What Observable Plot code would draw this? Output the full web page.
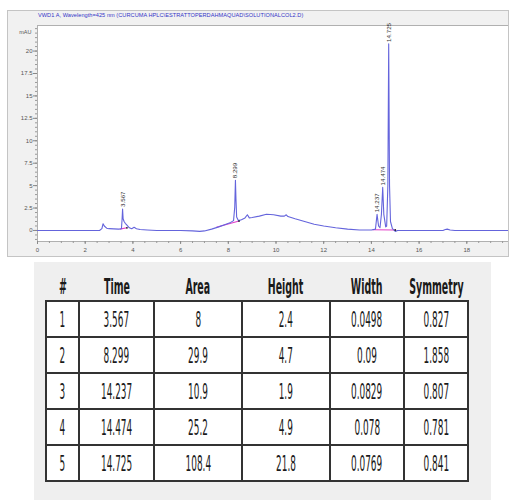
<!DOCTYPE html>
<html>
<head>
<meta charset="utf-8">
<script src="https://cdn.jsdelivr.net/npm/d3@7"></script>
<script src="https://cdn.jsdelivr.net/npm/@observablehq/plot@0.6"></script>
<style>
  body { margin:0; width:509px; height:500px; position:relative; background:#fff; overflow:hidden; font-family: Arial, "Liberation Sans", sans-serif; }
  #chart { position:absolute; left:7px; top:10px; width:502px; height:247px; }
  #chart svg { outline:1px solid #c4c4c4; outline-offset:-1px; }
  #title { position:absolute; left:31px; top:2px; font-size:5.6px; color:#3434c8; white-space:nowrap; letter-spacing:0.05px; }
  #panel { position:absolute; left:34px; top:262px; width:457px; height:238px; background:#efefef; }
  table { position:absolute; left:11px; top:12px; width:422px; table-layout:fixed; border-collapse:collapse; font-family:"Liberation Sans Narrow","DejaVu Sans Condensed","Liberation Sans",sans-serif; color:#1a1a1a; }
  th { height:26px; font-weight:bold; font-size:21px; padding:0; text-align:center; vertical-align:middle; overflow:visible; white-space:nowrap; }
  td { height:34px; font-size:22px; padding:0; text-align:center; vertical-align:middle; border:2px solid #333; background:#fff; overflow:visible; white-space:nowrap; }
  th .s { display:inline-block; transform:scaleX(0.5); transform-origin:center; }
  td .s { display:inline-block; transform:scaleX(0.45); transform-origin:center; }
  .w { display:block; width:0; margin:0 auto; display:flex; justify-content:center; }
</style>
</head>
<body>
<div id="chart"><div id="title"></div></div>
<div id="panel"></div>
<script>
// ---- chromatogram trace (retention time in min, signal in mAU) ----
const retentionTime = [0, 1, 2, 2.6, 2.7, 2.75, 2.8, 2.9, 3.0, 3.4, 3.52, 3.545, 3.567, 3.59, 3.63, 3.68, 3.75, 3.85, 3.95, 4.05, 4.15, 4.3, 4.6, 5.0, 6.0, 6.5, 6.8, 7.0, 7.3, 7.6, 7.9, 8.1, 8.22, 8.27, 8.299, 8.32, 8.35, 8.42, 8.55, 8.7, 8.8, 8.88, 9.0, 9.3, 9.6, 9.9, 10.2, 10.35, 10.43, 10.5, 10.8, 11.2, 11.6, 12.0, 12.5, 13.0, 13.5, 14.0, 14.17, 14.237, 14.3, 14.36, 14.42, 14.474, 14.52, 14.6, 14.64, 14.69, 14.725, 14.76, 14.8, 14.88, 15.0, 15.1, 16.0, 17.0, 17.1, 17.18, 17.3, 17.5, 19.8];
const signalMAU     = [0, 0, 0, 0, 0.2, 0.75, 0.5, 0.25, 0.2, 0.15, 0.2, 1.2, 2.4, 1.3, 1.0, 0.8, 0.6, 0.3, 0.2, 0.35, 0.2, 0.1, 0.05, 0, 0, -0.05, -0.1, -0.05, 0.15, 0.4, 0.7, 0.9, 1.1, 2.6, 5.6, 3.6, 1.5, 1.1, 1.2, 1.4, 1.75, 1.4, 1.45, 1.6, 1.8, 1.75, 1.6, 1.6, 1.75, 1.55, 1.3, 1.0, 0.7, 0.5, 0.3, 0.15, 0.05, 0.05, 0.15, 1.8, 0.5, 0.3, 1.8, 4.8, 1.8, 0.4, 0.5, 5.0, 20.8, 5.0, 1.0, 0.2, -0.1, 0, 0, 0, 0.1, 0.15, 0.05, 0, 0];

// ---- integration baselines ----
const baseStartT = [3.45, 7.5, 14.05];
const baseStartV = [0.15, 0.35, 0.08];
const baseEndT   = [3.75, 8.45, 15.0];
const baseEndV   = [0.3, 1.05, 0.05];

// ---- axis ticks ----
const xTicks = [0, 2, 4, 6, 8, 10, 12, 14, 16, 18];
const yTicks = [0, 2.5, 5, 7.5, 10, 12.5, 15, 17.5, 20];

// ---- peak table ----
const peakNo       = [1, 2, 3, 4, 5];
const peakTime     = [3.567, 8.299, 14.237, 14.474, 14.725];
const peakArea     = [8, 29.9, 10.9, 25.2, 108.4];
const peakHeight   = [2.4, 4.7, 1.9, 4.9, 21.8];
const peakWidth    = [0.0498, 0.09, 0.0829, 0.078, 0.0769];
const peakSymmetry = [0.827, 1.858, 0.807, 0.781, 0.841];
const tableHeaders = ["#", "Time", "Area", "Height", "Width", "Symmetry"];

const titleText = "VWD1 A, Wavelength=425 nm (CURCUMA HPLC\\ESTRATTOPERDAHMAQUAD\\SOLUTIONALCOL2.D)";

const curve = retentionTime.map((t, i) => ({t, v: signalMAU[i]}));
const peaks = peakTime.map(t => ({t, top: signalMAU[retentionTime.indexOf(t)], label: String(t)}));
const bases = baseStartT.map((t, i) => ({x1: t, y1: baseStartV[i], x2: baseEndT[i], y2: baseEndV[i]}));
const minorX = d3.range(0, 19.8, 0.5);
const minorY = d3.range(-1, 22.6, 0.5);

const plot = Plot.plot({
  width: 502, height: 247,
  marginLeft: 30, marginRight: 0, marginTop: 15, marginBottom: 16,
  style: {background: "#f1f1f1", fontFamily: "Arial, 'Liberation Sans', sans-serif", fontSize: "6px", color: "#555"},
  x: {domain: [0, 19.79]},
  y: {domain: [-1.23, 22.85]},
  marks: [
    Plot.frame({fill: "white", stroke: "#b0b0b0"}),
    Plot.axisX({ticks: minorX, tickSize: 2, tickFormat: () => "", label: null, stroke: "#999"}),
    Plot.axisX({ticks: xTicks, tickSize: 3, tickPadding: 3, label: null, stroke: "#888", fill: "#555", fontSize: 6}),
    Plot.axisY({ticks: minorY, tickSize: 2, tickFormat: () => "", label: null, stroke: "#999"}),
    Plot.axisY({ticks: yTicks, tickSize: 4, tickPadding: 1, label: null, stroke: "#888", fill: "#555", fontSize: 6, tickFormat: d => String(d)}),
    Plot.text(["mAU"], {frameAnchor: "top-left", dx: -6, dy: 5, textAnchor: "end", fontSize: 5.5, fill: "#555"}),
    Plot.link(bases, {x1: "x1", y1: "y1", x2: "x2", y2: "y2", stroke: "#e23ec8", strokeWidth: 1.1}),
    Plot.line(curve, {x: "t", y: "v", stroke: "#6464dc", strokeWidth: 1.1, curve: "linear"}),
    Plot.dot(bases, {x: "x2", y: "y2", r: 0.9, fill: "#222"}),
    Plot.text(peaks, {x: "t", y: "top", text: "label", rotate: -90, textAnchor: "start", dy: -2, fontSize: 6.2, fill: "#333"})
  ]
});
document.getElementById("chart").prepend(plot);
document.getElementById("title").textContent = titleText;

// table
const rows = peakNo.map((n, i) => [n, peakTime[i], peakArea[i], peakHeight[i], peakWidth[i], peakSymmetry[i]]);
const colW = [33, 75, 88, 88, 74, 64];
let html = "<table><colgroup>" + colW.map(w => `<col style="width:${w}px">`).join("") + "</colgroup>";
html += "<tr>" + tableHeaders.map(h => `<th><div class="w"><span class="s">${h}</span></div></th>`).join("") + "</tr>";
for (const r of rows) html += "<tr>" + r.map(v => `<td><div class="w"><span class="s">${String(v)}</span></div></td>`).join("") + "</tr>";
html += "</table>";
document.getElementById("panel").innerHTML = html;
</script>
</body>
</html>
